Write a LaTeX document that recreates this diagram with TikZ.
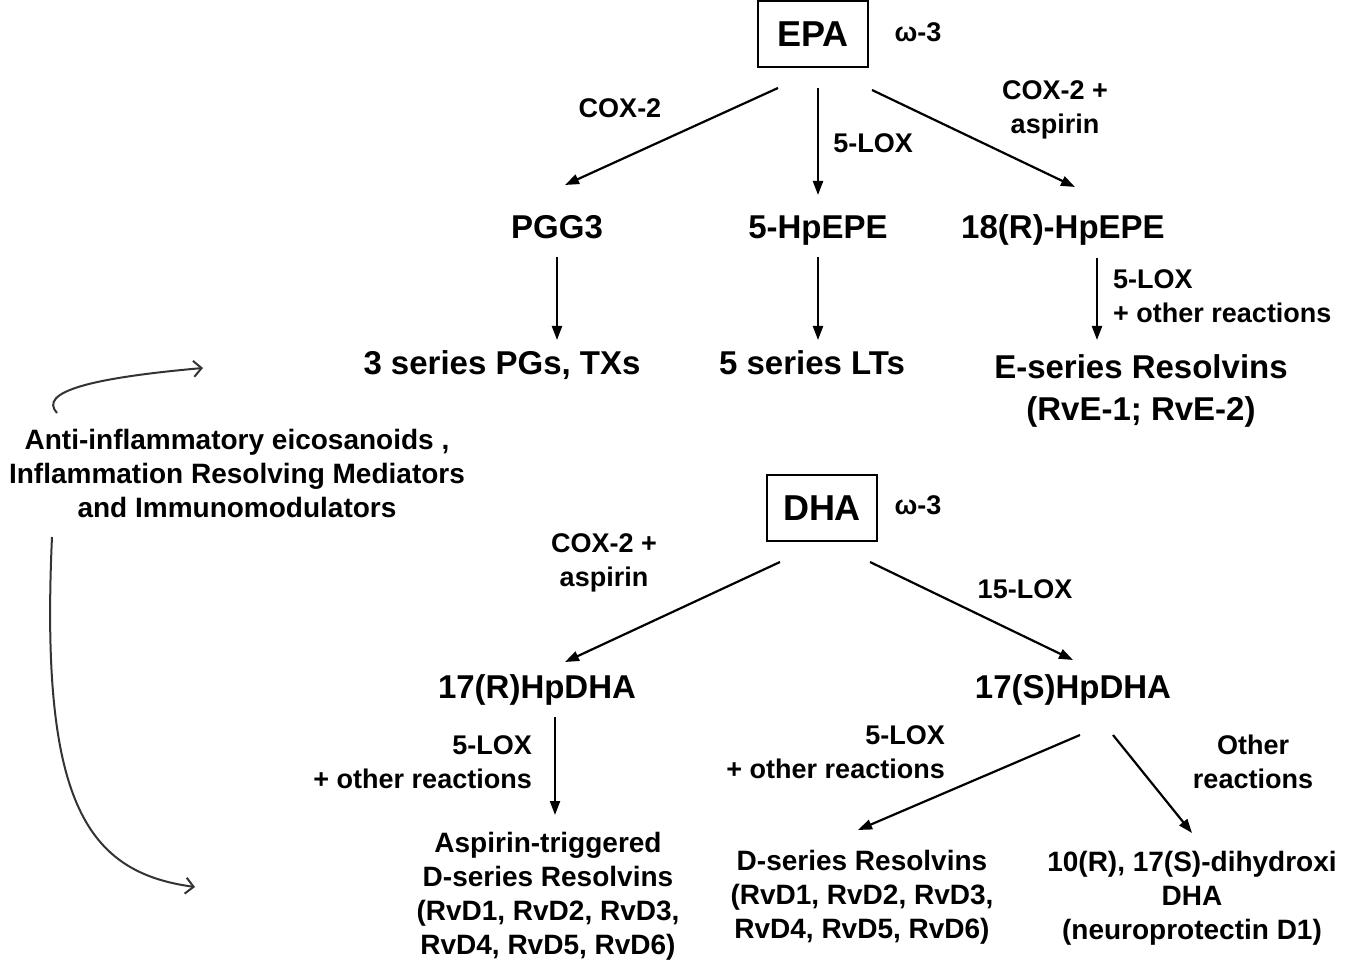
\documentclass[tikz,border=0pt]{standalone}
\usepackage{fontspec}
\setmainfont{Liberation Sans}
\usetikzlibrary{arrows.meta}
\begin{document}
\begin{tikzpicture}[x=1pt,y=-1pt,
  every node/.style={inner sep=0pt},
  mainf/.style={font=\fontsize{33}{42}\selectfont\bfseries, text height=23.6pt, text depth=0pt},
  mainm/.style={font=\fontsize{33}{42}\selectfont\bfseries, align=center},
  lab/.style={font=\fontsize{27}{34}\selectfont\bfseries, align=center},
  prod/.style={font=\fontsize{28}{34}\selectfont\bfseries, align=center},
  box/.style={draw, line width=2.2pt, minimum width=110pt, minimum height=66pt, font=\fontsize{36}{40}\selectfont\bfseries},
  arr/.style={line width=2.2pt, -{Triangle[length=14pt,width=10pt]}},
  curv/.style={line width=2pt, draw=black!80, -{Straight Barb[length=8pt,width=16pt,line width=2pt]}}]
\useasboundingbox (0,0) rectangle (1350,968);
% EPA part
\node[box] (EPA) at (813,34) {EPA};
\node[lab] (w1) at (918,32) {ω-3};
\node[mainf] (PGG) at (557,227) {PGG3};
\node[mainf] (HPEPE) at (818,227) {5-HpEPE};
\node[mainf] (RHPEPE) at (1063,227) {18(R)-HpEPE};
\node[mainf] (PGs) at (502,363) {3 series PGs, TXs};
\node[mainf] (LTs) at (812,363) {5 series LTs};
\node[mainm] (ERv) at (1141,391) {E-series Resolvins\\(RvE-1; RvE-2)};
\node[lab] (l1) at (620,108) {COX-2};
\node[lab] (l2) at (873,143) {5-LOX};
\node[lab] (l3) at (1055,110) {COX-2 +\\aspirin};
\node[lab, align=left, anchor=west] (l4) at (1113,296) {5-LOX\\+ other reactions};
\draw[arr] ([shift={(-35,54)}]EPA.center) -- ([shift={(8,-42)}]PGG.center);
\draw[arr] ([shift={(5,54)}]EPA.center) -- ([shift={(0,-32)}]HPEPE.center);
\draw[arr] ([shift={(59,56)}]EPA.center) -- ([shift={(12,-40)}]RHPEPE.center);
\draw[arr] ([shift={(0,30)}]PGG.center) -- ([shift={(55,-23)}]PGs.center);
\draw[arr] ([shift={(0,30)}]HPEPE.center) -- ([shift={(6,-23)}]LTs.center);
\draw[arr] ([shift={(34,31)}]RHPEPE.center) -- ([shift={(-44,-51)}]ERv.center);
% left text
\node[prod] (LT) at (237,473) {Anti-inflammatory eicosanoids ,\\Inflammation Resolving Mediators\\and Immunomodulators};
\coordinate (c1s) at (57,413);
\coordinate (c1e) at (203,368);
\draw[curv] (c1s) .. controls (38,392) and (90,378) .. (c1e);
\coordinate (c2s) at (52,537);
\coordinate (c2e) at (195,887);
\draw[curv] (c2s) .. controls (40,800) and (85,872) .. (c2e);
% DHA part
\node[box] (DHA) at (822,508) {DHA};
\node[lab] (w2) at (918,505) {ω-3};
\node[lab] (l5) at (604,563) {COX-2 +\\aspirin};
\node[lab] (l6) at (1025,589) {15-LOX};
\node[mainf] (R17) at (537,687) {17(R)HpDHA};
\node[mainf] (S17) at (1073,687) {17(S)HpDHA};
\node[lab, align=right, anchor=east] (l7) at (532,762) {5-LOX\\+ other reactions};
\node[lab, align=right, anchor=east] (l8) at (945,752) {5-LOX\\+ other reactions};
\node[lab] (l9) at (1253,762) {Other\\reactions};
\node[prod] (ATD) at (548,896) {Aspirin-triggered\\D-series Resolvins\\(RvD1, RvD2, RvD3,\\RvD4, RvD5, RvD6)};
\node[prod] (DSR) at (862,897) {D-series Resolvins\\(RvD1, RvD2, RvD3,\\RvD4, RvD5, RvD6)};
\node[prod] (NPD) at (1192,898) {10(R), 17(S)-dihydroxi\\DHA\\(neuroprotectin D1)};
\draw[arr] ([shift={(-42,54)}]DHA.center) -- ([shift={(28,-25)}]R17.center);
\draw[arr] ([shift={(48,54)}]DHA.center) -- ([shift={(0,-27)}]S17.center);
\draw[arr] ([shift={(18,30)}]R17.center) -- ([shift={(7,-81)}]ATD.center);
\draw[arr] ([shift={(7,48)}]S17.center) -- ([shift={(-4,-67)}]DSR.center);
\draw[arr] ([shift={(40,48)}]S17.center) -- ([shift={(0,-65)}]NPD.center);
\end{tikzpicture}
\end{document}
